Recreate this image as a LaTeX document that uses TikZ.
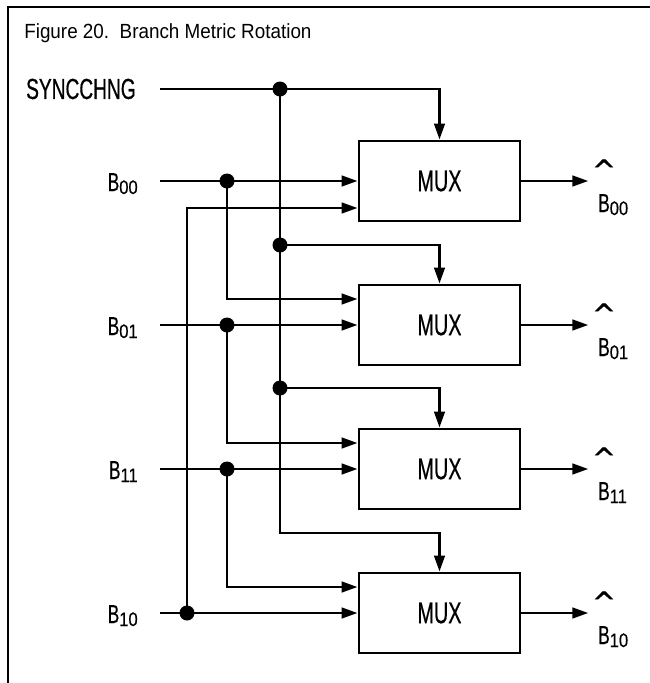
\documentclass[tikz,border=0pt]{standalone}
\usepackage{fontspec}
\setmainfont{Liberation Sans}
\newfontfamily\titlefont[FakeStretch=0.92]{Liberation Sans}
\newfontfamily\narrowfont[FakeStretch=0.66, FakeBold=0.5]{Liberation Sans}
\newfontfamily\subfont[FakeStretch=0.85, FakeBold=0.4]{Liberation Sans}
\newfontfamily\hatfont[FakeBold=1.5]{DejaVu Sans}
\usetikzlibrary{arrows.meta, positioning}
\newcommand{\bsig}[1]{B\raisebox{-3pt}{\subfont\fontsize{19.5}{20}\selectfont #1}}

\begin{document}
\begin{tikzpicture}[x=1pt, y=-1pt, line width=2.6pt,
    wire/.style={line width=2.8pt},
    arr/.style={wire, -{Triangle[length=16pt,width=10.5pt]}},
    muxbox/.style={draw, line width=2.8pt, minimum width=161pt, minimum height=80pt,
        inner sep=0pt, font=\narrowfont\fontsize{30}{30}\selectfont},
    lbl/.style={inner sep=0pt, font=\narrowfont\fontsize{26}{26}\selectfont},
    hatlbl/.style={inner sep=0pt, font=\hatfont\fontsize{28}{28}\selectfont},
    dot/.style={circle, fill, inner sep=0pt, minimum size=15pt}]
    \useasboundingbox (0,0) rectangle (650,683);

    % 边框与标题
    \draw[line width=1.2pt] (8,683) -- (8,7) -- (650,7);
    \node[anchor=base west, inner sep=0pt, font=\titlefont\fontsize{20.5}{20}\selectfont] (title) at (23,38)
        {Figure 20.\ \ Branch Metric Rotation};

    % 多路选择器
    \foreach \i/\y in {1/181, 2/325, 3/469, 4/613}
        \node[muxbox] (mux\i) at (439.5,\y) {MUX};

    % 输入
    \foreach \n/\y in {00/181, 01/325, 11/469, 10/613} {
        \coordinate (s\n) at (160,\y);
        \node[lbl, anchor=base east] (in\n) at (139,\y+10) {\bsig{\n}};
        \draw[arr] (s\n) -- (s\n -| mux1.west);
    }

    % 分支
    \node[dot] (d00) at (227,181) {};
    \node[dot] (d01) at (227,325) {};
    \node[dot] (d11) at (227,469) {};
    \node[dot] (d10) at (187,613) {};
    \draw[arr] (d00.center) |- ([yshift=26pt]mux2.west);
    \draw[arr] (d01.center) |- ([yshift=26pt]mux3.west);
    \draw[arr] (d11.center) |- ([yshift=26pt]mux4.west);
    \draw[arr] (d10.center) |- ([yshift=-27pt]mux1.west);

    % 同步信号
    \node[anchor=east, inner sep=0pt, font=\narrowfont\fontsize{29}{29}\selectfont] (sync) at (137,89) {SYNCCHNG};
    \coordinate (ss) at (160,89);
    \node[dot] (t1) at (280,89) {};
    \node[dot] (t2) at (280,245) {};
    \node[dot] (t3) at (280,388) {};
    \coordinate (t4) at (280,533);
    \draw[arr] (ss) -- (t1.center) -| (mux1.north);
    \draw[arr] (t1.center) -- (t4) -| (mux4.north);
    \draw[arr] (t2.center) -| (mux2.north);
    \draw[arr] (t3.center) -| (mux3.north);

    % 输出
    \foreach \i/\n/\y in {1/00/181, 2/01/325, 3/11/469, 4/10/613} {
        \draw[arr] (mux\i.east) -- ++(67,0) coordinate (e\i);
        \node[lbl, anchor=base west] (out\n) at (597,\y+31) {\bsig{\n}};
        \node[hatlbl, anchor=base] (hat\n) at (604,\y-1) {\textasciicircum};
    }
\end{tikzpicture}
\end{document}
